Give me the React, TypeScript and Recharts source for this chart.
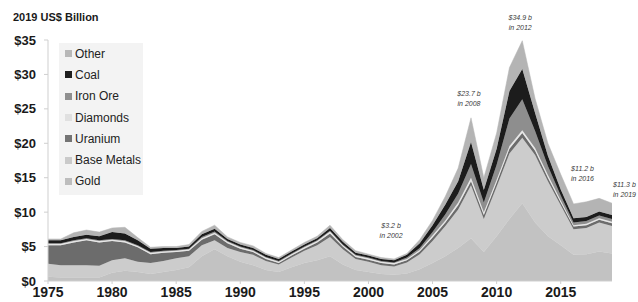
import { Area, AreaChart, Legend, ReferenceDot, XAxis, YAxis } from "recharts";

const YEARS = [
  1975, 1976, 1977, 1978, 1979, 1980, 1981, 1982, 1983, 1984, 1985, 1986, 1987, 1988, 1989,
  1990, 1991, 1992, 1993, 1994, 1995, 1996, 1997, 1998, 1999, 2000, 2001, 2002, 2003, 2004,
  2005, 2006, 2007, 2008, 2009, 2010, 2011, 2012, 2013, 2014, 2015, 2016, 2017, 2018, 2019,
];

// stacked bottom -> top, US$ billion (2019 dollars)
const GOLD = [
  0.6, 0.5, 0.5, 0.5, 0.5, 1.2, 1.5, 1.3, 1.0, 1.3, 1.6, 2.0, 3.6, 4.6, 3.6,
  2.8, 2.3, 1.6, 1.3, 2.0, 2.6, 3.0, 3.6, 2.4, 1.6, 1.3, 1.0, 0.9, 1.1, 1.7,
  2.6, 3.6, 4.8, 6.2, 4.2, 6.5, 9.0, 11.3, 8.5, 6.5, 5.2, 3.8, 3.9, 4.3, 4.0,
];
const BASE_METALS = [
  1.9, 1.8, 1.8, 1.8, 1.7, 1.8, 1.8, 1.5, 1.6, 1.6, 1.7, 1.6, 1.6, 1.3, 1.2,
  1.4, 1.5, 1.3, 1.1, 1.4, 1.8, 2.2, 2.8, 2.2, 1.6, 1.5, 1.3, 1.2, 1.6, 2.2,
  3.2, 4.4, 5.6, 7.7, 4.8, 7.2, 9.5, 9.5, 9.8, 8.0, 5.8, 3.7, 3.8, 4.2, 4.0,
];
const URANIUM = [
  2.7, 2.9, 3.3, 3.6, 3.4, 2.8, 2.3, 2.1, 1.3, 1.2, 0.9, 0.8, 0.8, 0.9, 0.7,
  0.5, 0.4, 0.3, 0.2, 0.3, 0.3, 0.4, 0.5, 0.4, 0.3, 0.3, 0.3, 0.3, 0.3, 0.4,
  0.5, 0.5, 0.6, 0.6, 0.6, 0.6, 0.7, 0.7, 0.6, 0.5, 0.4, 0.4, 0.4, 0.4, 0.4,
];
const DIAMONDS = [
  0.2, 0.2, 0.2, 0.2, 0.2, 0.2, 0.2, 0.2, 0.2, 0.2, 0.2, 0.2, 0.2, 0.2, 0.2,
  0.2, 0.2, 0.2, 0.2, 0.2, 0.2, 0.2, 0.3, 0.2, 0.2, 0.2, 0.2, 0.2, 0.2, 0.2,
  0.3, 0.3, 0.4, 0.5, 0.4, 0.4, 0.4, 0.4, 0.4, 0.4, 0.3, 0.2, 0.2, 0.2, 0.2,
];
const IRON_ORE = [
  0.1, 0.1, 0.1, 0.1, 0.1, 0.1, 0.1, 0.1, 0.1, 0.1, 0.1, 0.1, 0.2, 0.2, 0.1,
  0.1, 0.1, 0.1, 0.1, 0.1, 0.1, 0.1, 0.1, 0.1, 0.1, 0.1, 0.1, 0.1, 0.2, 0.3,
  0.5, 0.9, 1.3, 2.0, 1.4, 2.2, 4.0, 4.5, 2.5, 1.3, 0.7, 0.4, 0.4, 0.4, 0.4,
];
const COAL = [
  0.4, 0.4, 0.5, 0.5, 0.6, 1.0, 1.0, 0.7, 0.5, 0.4, 0.3, 0.3, 0.4, 0.4, 0.3,
  0.3, 0.3, 0.3, 0.3, 0.3, 0.3, 0.3, 0.4, 0.4, 0.3, 0.3, 0.3, 0.3, 0.4, 0.7,
  1.0, 1.4, 1.8, 3.2, 1.8, 2.3, 4.0, 4.4, 2.6, 1.5, 0.9, 0.6, 0.6, 0.6, 0.6,
];
const OTHER = [
  0.2, 0.2, 0.6, 0.7, 0.6, 0.6, 0.9, 0.4, 0.2, 0.2, 0.2, 0.3, 0.4, 0.5, 0.3,
  0.3, 0.3, 0.2, 0.2, 0.2, 0.3, 0.3, 0.4, 0.3, 0.3, 0.2, 0.2, 0.2, 0.2, 0.5,
  0.7, 1.2, 1.9, 3.5, 1.8, 2.3, 3.4, 4.1, 2.1, 1.8, 2.2, 2.1, 2.2, 1.9, 1.7,
];

const X_TICKS = [1975, 1980, 1985, 1990, 1995, 2000, 2005, 2010, 2015];
const Y_TICKS = [0, 5, 10, 15, 20, 25, 30, 35];

const ANNOTATIONS = [
  { year: 2002, value: 3.2, text: "$3.2 b", sub: "in 2002" },
  { year: 2008, value: 23.7, text: "$23.7 b", sub: "in 2008" },
  { year: 2012, value: 34.9, text: "$34.9 b", sub: "in 2012" },
  { year: 2016, value: 11.2, text: "$11.2 b", sub: "in 2016" },
  { year: 2019, value: 11.3, text: "$11.3 b", sub: "in 2019" },
];

const SERIES = [
  { key: "gold", name: "Gold", values: GOLD, color: "#c2c2c2", swatch: "#bdbdbd" },
  { key: "base", name: "Base Metals", values: BASE_METALS, color: "#cccccc", swatch: "#cacaca" },
  { key: "uranium", name: "Uranium", values: URANIUM, color: "#6c6c6c", swatch: "#747474" },
  { key: "diamonds", name: "Diamonds", values: DIAMONDS, color: "#e6e6e6", swatch: "#e0e0e0" },
  { key: "iron", name: "Iron Ore", values: IRON_ORE, color: "#8e8e8e", swatch: "#8f8f8f" },
  { key: "coal", name: "Coal", values: COAL, color: "#1c1c1c", swatch: "#1e1e1e" },
  { key: "other", name: "Other", values: OTHER, color: "#b4b4b4", swatch: "#b8b8b8" },
];

// label placement around each annotated point (px)
const ANNOT_PLACE: Record<number, { dx: number; dy: number; anchor: "middle" | "start" }> = {
  2002: { dx: -3, dy: -24, anchor: "middle" },
  2008: { dx: -2, dy: -15, anchor: "middle" },
  2012: { dx: -2, dy: -14, anchor: "middle" },
  2016: { dx: 9, dy: -26, anchor: "middle" },
  2019: { dx: 1, dy: -9, anchor: "start" },
};

const rows = YEARS.map((year, i) => {
  const row: Record<string, number> = { year };
  SERIES.forEach((s) => {
    row[s.key] = s.values[i];
  });
  return row;
});

const FONT = "'Liberation Sans', Arial, sans-serif";

function LegendBox() {
  return (
    <div
      style={{
        width: 84,
        background: "#f3f3f3",
        padding: "0 0 3px 6px",
        fontFamily: FONT,
        fontSize: 12,
        color: "#222",
        boxSizing: "border-box",
        whiteSpace: "nowrap",
      }}
    >
      {[...SERIES].reverse().map((s) => (
        <div key={s.key} style={{ display: "flex", alignItems: "center", height: 21.3 }}>
          <span style={{ width: 7, height: 7, background: s.swatch, marginRight: 3, flexShrink: 0 }} />
          <span>{s.name}</span>
        </div>
      ))}
    </div>
  );
}

function makeAnnotShape(a: (typeof ANNOTATIONS)[number]) {
  const place = ANNOT_PLACE[a.year];
  return (props: { cx?: number; cy?: number }) => {
    const x = (props.cx ?? 0) + place.dx;
    const y = (props.cy ?? 0) + place.dy;
    return (
      <g fontSize={7} fontStyle="italic" fill="#3a3a3a" fontFamily={FONT}>
        <text x={x} y={y - 7} textAnchor={place.anchor}>
          {a.text}
        </text>
        <text x={x} y={y + 3} textAnchor={place.anchor}>
          {a.sub}
        </text>
      </g>
    );
  };
}

export default function App() {
  return (
    <div style={{ position: "absolute", left: 0, top: 0, width: 638, height: 302, background: "#fff" }}>
      <div
        style={{
          position: "absolute",
          left: 13,
          top: 11,
          fontFamily: FONT,
          fontSize: 11,
          fontWeight: 700,
          color: "#1a1a1a",
        }}
      >
        2019 US$ Billion
      </div>
      <AreaChart width={638} height={302} data={rows} margin={{ top: 40, right: 26, bottom: 0, left: 0 }}>
        <XAxis
          dataKey="year"
          type="number"
          domain={[1975, 2019]}
          ticks={X_TICKS}
          height={21}
          tickSize={3}
          tickMargin={3}
          stroke="#cfcfcf"
          tick={{ fill: "#1a1a1a", fontSize: 14, fontWeight: 700, fontFamily: FONT }}
        />
        <YAxis
          type="number"
          domain={[0, 35]}
          ticks={Y_TICKS}
          width={48}
          tickSize={4}
          tickMargin={8}
          stroke="#cfcfcf"
          tickFormatter={(v: number) => `$${v}`}
          tick={{ fill: "#1a1a1a", fontSize: 13, fontWeight: 700, fontFamily: FONT }}
        />
        {SERIES.map((s) => (
          <Area
            key={s.key}
            dataKey={s.key}
            name={s.name}
            stackId="1"
            type="linear"
            fill={s.color}
            fillOpacity={1}
            stroke={s.color}
            strokeWidth={0.5}
            isAnimationActive={false}
          />
        ))}
        {ANNOTATIONS.map((a) => (
          <ReferenceDot
            key={a.year}
            x={a.year}
            y={a.value}
            r={0}
            ifOverflow="visible"
            shape={makeAnnotShape(a)}
          />
        ))}
        <Legend
          layout="vertical"
          align="center"
          verticalAlign="middle"
          wrapperStyle={{ top: 43, left: 59, width: 84 }}
          content={() => <LegendBox />}
        />
      </AreaChart>
    </div>
  );
}
